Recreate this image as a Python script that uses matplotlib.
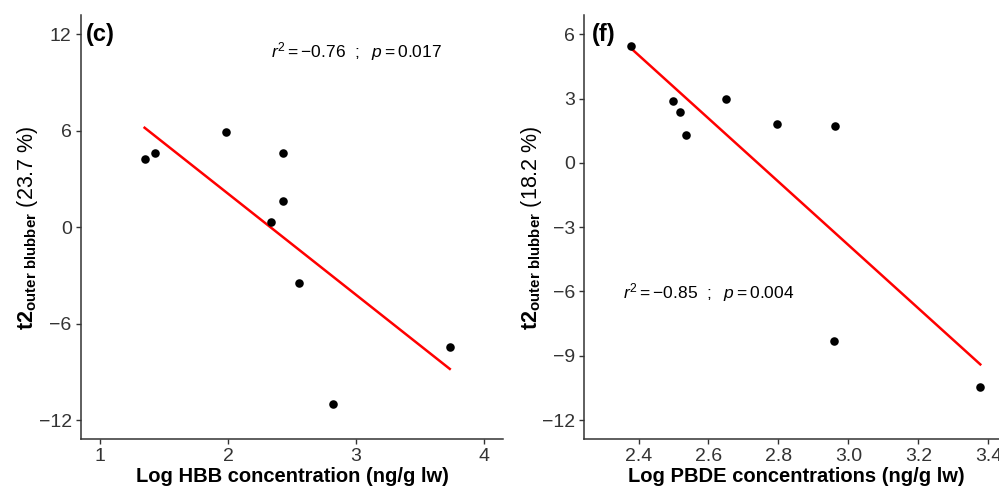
import numpy as np
import matplotlib
matplotlib.use("Agg")
import matplotlib.pyplot as plt

plt.rcParams['font.family'] = ['Liberation Sans', 'DejaVu Sans']
plt.rcParams['mathtext.fontset'] = 'custom'
plt.rcParams['mathtext.rm'] = 'Liberation Sans'
plt.rcParams['mathtext.it'] = 'Liberation Sans:italic'
plt.rcParams['mathtext.bf'] = 'Liberation Sans:bold'

# Panel (c): HBB
hbb_x = [1.349, 1.427, 1.984, 2.433, 2.433, 2.334, 2.558, 2.822, 3.732]
hbb_y = [4.22, 4.59, 5.94, 4.63, 1.62, 0.33, -3.49, -10.98, -7.43]
hbb_xticks = [1, 2, 3, 4]
hbb_yticks = [-12, -6, 0, 6, 12]

# Panel (f): PBDE
pbde_x = [2.379, 2.498, 2.519, 2.535, 2.651, 2.795, 2.961, 2.960, 3.377]
pbde_y = [5.47, 2.89, 2.38, 1.30, 2.98, 1.82, 1.74, -8.31, -10.44]
pbde_xticks = [2.4, 2.6, 2.8, 3.0, 3.2, 3.4]
pbde_yticks = [-12, -9, -6, -3, 0, 3, 6]

W, H = 999, 486
fig = plt.figure(figsize=(W / 100, H / 100), dpi=100)

def px_axes(x0, x1, ytop, ybot):
    return fig.add_axes([x0 / W, (H - ybot) / H, (x1 - x0) / W, (ybot - ytop) / H])

ax1 = px_axes(80.7, 503.3, 15, 439.3)
ax2 = px_axes(584.3, 1007.6, 15, 439.3)

def style(ax, xt, yt, xl, yl, xlabel, ylabel_pct):
    ax.set_xlim(*xl)
    ax.set_ylim(*yl)
    ax.set_xticks(xt)
    ax.set_yticks(yt)
    for s in ['top', 'right']:
        ax.spines[s].set_visible(False)
    for s in ['left', 'bottom']:
        ax.spines[s].set_linewidth(1.1)
        ax.spines[s].set_color('#333333')
    ax.tick_params(axis='both', length=3.5, width=1.0, color='#333333',
                   labelsize=14, labelcolor='#333333', pad=3)
    ax.set_xlabel(xlabel, fontsize=14.5, fontweight='bold', labelpad=1)
    ax.set_ylabel(r'$\mathbf{t2}_{\mathbf{outer\ blubber}}$' + ' (' + ylabel_pct + ' %)',
                  fontsize=15.5, labelpad=-1)

def draw(ax, x, y):
    x = np.array(x); y = np.array(y)
    m, b = np.polyfit(x, y, 1)
    xs = np.array([x.min(), x.max()])
    ax.plot(xs, m * xs + b, color='#FF0000', lw=1.8, zorder=2)
    ax.scatter(x, y, s=38, color='black', zorder=3, linewidths=0)

draw(ax1, hbb_x, hbb_y)
style(ax1, hbb_xticks, hbb_yticks, (0.85, 4.15), (-13.2, 13.2),
      'Log HBB concentration (ng/g lw)', '23.7')
ax1.set_xticklabels(['1', '2', '3', '4'])
ax1.set_yticklabels(['\u221212', '\u22126', '0', '6', '12'])
ax1.text(1, 12, '(c)', fontsize=17, fontweight='bold', ha='center', va='center')
ax1.text(3, 10.9, r'$r^2 = -0.76\ \ ;\ \ p = 0.017$', fontsize=12.5, ha='center', va='center')

draw(ax2, pbde_x, pbde_y)
style(ax2, pbde_xticks, pbde_yticks, (2.245, 3.455), (-12.9, 6.9),
      'Log PBDE concentrations (ng/g lw)', '18.2')
ax2.set_xticklabels(['2.4', '2.6', '2.8', '3.0', '3.2', '3.4'])
ax2.set_yticklabels(['\u221212', '\u22129', '\u22126', '\u22123', '0', '3', '6'])
ax2.text(2.3, 6.0, '(f)', fontsize=17, fontweight='bold', ha='center', va='center')
ax2.text(2.6, -6.05, r'$r^2 = -0.85\ \ ;\ \ p = 0.004$', fontsize=12.5, ha='center', va='center')

fig.savefig('out.png', dpi=100)
